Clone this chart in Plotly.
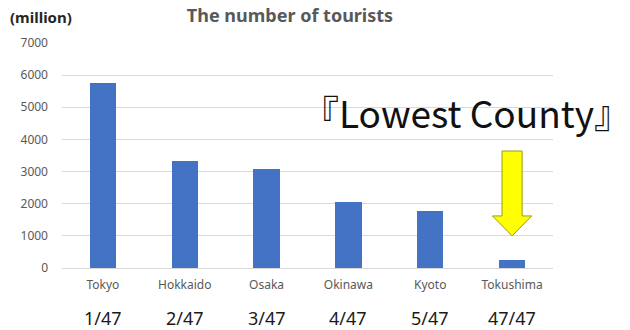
import plotly.graph_objects as go

categories = ["Tokyo", "Hokkaido", "Osaka", "Okinawa", "Kyoto", "Tokushima"]
tourists = [5750, 3340, 3090, 2050, 1760, 240]
ranks = ["1/47", "2/47", "3/47", "4/47", "5/47", "47/47"]
y_ticks = [0, 1000, 2000, 3000, 4000, 5000, 6000, 7000]

x_idx = list(range(len(categories)))

L, R, T, B = 62, 77, 43, 62
W, H = 630, 330
PW, PH = W - L - R, H - T - B


def px_x(p):
    return (p - L) / PW


def px_y(p):
    return (H - B - p) / PH


fig = go.Figure()
fig.add_trace(go.Bar(
    x=x_idx, y=tourists, width=0.32,
    marker=dict(color="#4472C4", line=dict(width=0)),
    hoverinfo="skip",
))

# block arrow pointing at lowest county
ax = x_idx[-1]
sw, hw = 0.123, 0.24
y_top, y_head, y_tip = 3640, 1620, 1000
path = (f"M {ax-sw},{y_top} L {ax+sw},{y_top} L {ax+sw},{y_head} L {ax+hw},{y_head} "
        f"L {ax},{y_tip} L {ax-hw},{y_head} L {ax-sw},{y_head} Z")
fig.add_shape(type="path", path=path, xref="x", yref="y",
              fillcolor="#FFFF00", line=dict(color="#9a9a20", width=1), layer="above")

annotations = []
for i, r in zip(x_idx, ranks):
    annotations.append(dict(x=i, y=px_y(318), xref="x", yref="paper", text=r, showarrow=False,
                            font=dict(family="Noto Sans", size=18, color="#1a1a1a"),
                            xanchor="center", yanchor="middle"))
annotations.append(dict(x=px_x(466), y=px_y(112),
                        xref="paper", yref="paper", text="『Lowest County』", showarrow=False,
                        font=dict(family="Noto Sans CJK JP", size=37, color="#111111"),
                        xanchor="center", yanchor="middle"))
annotations.append(dict(x=px_x(8), y=px_y(17), xref="paper", yref="paper",
                        text="<b>(million)</b>", showarrow=False,
                        font=dict(family="Noto Sans", size=15, color="#262626"),
                        xanchor="left", yanchor="middle"))

fig.update_layout(
    width=W, height=H,
    margin=dict(l=L, r=R, t=T, b=B),
    paper_bgcolor="white", plot_bgcolor="white",
    showlegend=False,
    title=dict(text="<b>The number of tourists</b>", x=290 / W, xanchor="center",
               y=1 - 16 / H, yanchor="middle", yref="container",
               font=dict(family="Noto Sans", size=18, color="#595959")),
    xaxis=dict(range=[-0.5, 5.5], tickmode="array", tickvals=x_idx, ticktext=categories,
               showgrid=False, zeroline=False, showline=False, ticks="",
               tickfont=dict(family="Noto Sans", size=12, color="#595959"),
               ticklabelstandoff=8),
    yaxis=dict(range=[0, 7000], tickmode="array", tickvals=y_ticks,
               showgrid=True, gridcolor="#d9d9d9", gridwidth=1,
               zeroline=True, zerolinecolor="#d9d9d9", zerolinewidth=1,
               showline=False, ticks="",
               tickfont=dict(family="Noto Sans", size=12, color="#595959"),
               ticklabelstandoff=13),
    annotations=annotations,
    bargap=0,
)

fig.write_html("out.html", config={"displayModeBar": False},
               post_script="document.body.style.margin='0';")
